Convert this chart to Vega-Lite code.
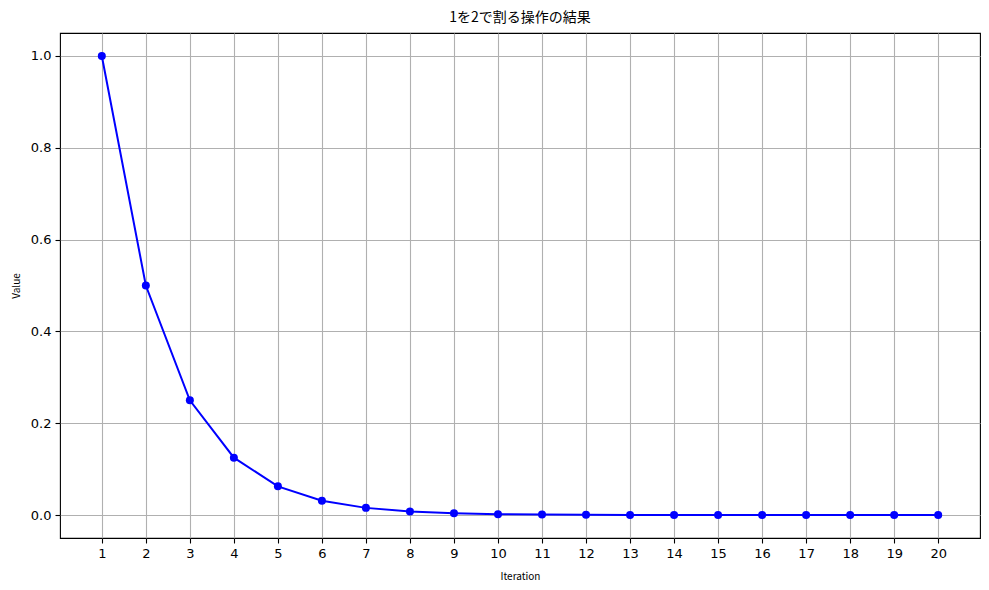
{
  "$schema": "https://vega.github.io/schema/vega-lite/v6.json",
  "width": 920,
  "height": 505,
  "autosize": {"type": "none"},
  "padding": {"left": 60, "top": 33, "right": 9, "bottom": 52},
  "background": "white",
  "title": {"text": "1を2で割る操作の結果", "font": "Noto Sans CJK JP", "fontSize": 14, "fontWeight": "normal", "color": "#000000", "offset": 8},
  "config": {
    "view": {"stroke": "#000000", "strokeWidth": 1.1},
    "axis": {
      "labelFont": "DejaVu Sans", "labelFontSize": 13, "labelColor": "#000000",
      "tickColor": "#000000", "tickSize": 5, "tickWidth": 1.1, "labelPadding": 4,
      "domain": false,
      "grid": true, "gridColor": "#b0b0b0", "gridWidth": 1.1,
      "titleFont": "Noto Sans CJK JP", "titleFontSize": 10, "titleFontWeight": "normal", "titleColor": "#000000"
    }
  },
  "data": {"values": [
    {"Iteration": 1, "Value": 1},
    {"Iteration": 2, "Value": 0.5},
    {"Iteration": 3, "Value": 0.25},
    {"Iteration": 4, "Value": 0.125},
    {"Iteration": 5, "Value": 0.0625},
    {"Iteration": 6, "Value": 0.03125},
    {"Iteration": 7, "Value": 0.015625},
    {"Iteration": 8, "Value": 0.0078125},
    {"Iteration": 9, "Value": 0.00390625},
    {"Iteration": 10, "Value": 0.001953125},
    {"Iteration": 11, "Value": 0.0009765625},
    {"Iteration": 12, "Value": 0.00048828125},
    {"Iteration": 13, "Value": 0.000244140625},
    {"Iteration": 14, "Value": 0.0001220703125},
    {"Iteration": 15, "Value": 0.00006103515625},
    {"Iteration": 16, "Value": 0.000030517578125},
    {"Iteration": 17, "Value": 0.0000152587890625},
    {"Iteration": 18, "Value": 0.00000762939453125},
    {"Iteration": 19, "Value": 0.000003814697265625},
    {"Iteration": 20, "Value": 0.0000019073486328125}
  ]},
  "mark": {"type": "line", "color": "#0000ff", "strokeWidth": 2, "point": {"filled": true, "color": "#0000ff", "size": 64, "opacity": 1}},
  "encoding": {
    "x": {"field": "Iteration", "type": "quantitative",
      "scale": {"domain": [0.05, 20.95], "nice": false, "zero": false},
      "axis": {"title": "Iteration", "values": [1,2,3,4,5,6,7,8,9,10,11,12,13,14,15,16,17,18,19,20], "format": "d", "titlePadding": 11}},
    "y": {"field": "Value", "type": "quantitative",
      "scale": {"domain": [-0.05, 1.05], "nice": false, "zero": false},
      "axis": {"title": "Value", "values": [0, 0.2, 0.4, 0.6, 0.8, 1.0], "format": ".1f", "titlePadding": 9}}
  }
}
